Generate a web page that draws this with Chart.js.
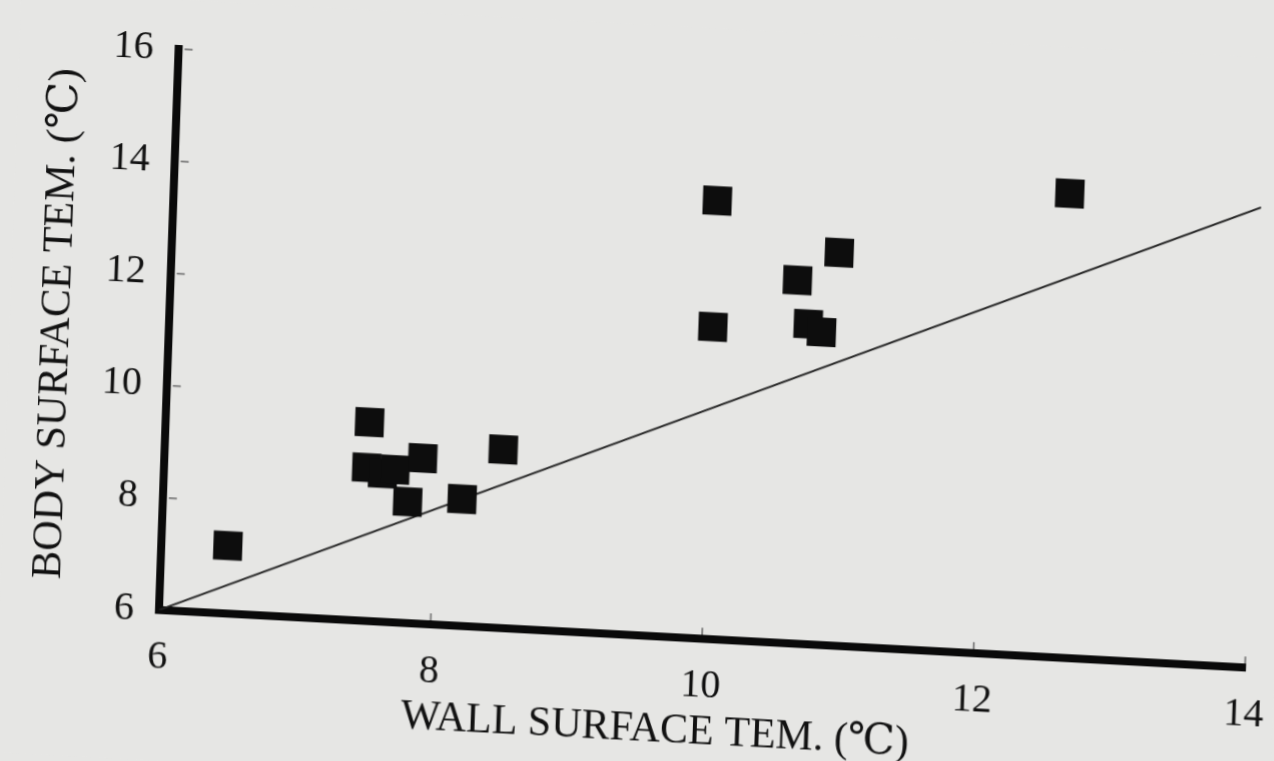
<!DOCTYPE html>
<html>
<head>
<meta charset="utf-8">
<script src="https://cdn.jsdelivr.net/npm/chart.js@4.4.1/dist/chart.umd.min.js"></script>
<style>
    html, body { margin: 0; padding: 0; background: #e6e6e4; overflow: hidden; }
    /* the scanned page is slightly skewed, so tilt the whole canvas the same way */
    #scatterChart {
        display: block;
        background: #e6e6e4;
        transform-origin: 159px 610px;
        transform: matrix(1, 0.053, -0.035, 1, 0, 0);
    }
</style>
</head>
<body>
<canvas id="scatterChart" width="1274" height="761"></canvas>
<script>
// Wall surface temperature (x) vs body surface temperature (y)
const wallTemp = [6.49, 7.50, 7.49, 7.61, 7.70, 7.90, 7.80, 8.20, 8.49, 10.00, 10.91, 10.61, 10.00, 10.70, 10.80, 12.59];
const bodyTemp = [7.21, 9.54, 8.73, 8.64, 8.72, 8.95, 8.16, 8.26, 9.18, 13.81, 13.00, 12.47, 11.56, 11.70, 11.57, 14.27];

// reference line
const lineWall = [6, 14];
const lineBody = [6, 14.2];

const xTicks = [6, 8, 10, 12, 14];
const yTicks = [6, 8, 10, 12, 14, 16];

const xTitle = "WALL SURFACE TEM. (\u2103)";
const yTitle = "BODY SURFACE TEM. (\u2103)";

const serif = '"Liberation Serif", "DejaVu Serif", serif';
const ink = '#111111';

// small inward tick marks + the x axis title (sits left of centre on the page)
const paperPlugin = {
    id: 'paper',
    afterDraw(chart) {
        const { ctx, chartArea: { left, bottom }, scales: { x, y } } = chart;
        ctx.save();
        ctx.strokeStyle = '#666';
        ctx.lineWidth = 1.5;
        xTicks.slice(1).forEach(v => {
            const px = x.getPixelForValue(v);
            ctx.beginPath();
            ctx.moveTo(px, bottom - 4);
            ctx.lineTo(px, bottom - 11);
            ctx.stroke();
        });
        yTicks.slice(1).forEach(v => {
            const py = y.getPixelForValue(v);
            ctx.beginPath();
            ctx.moveTo(left + 6, py);
            ctx.lineTo(left + 14, py);
            ctx.stroke();
        });

        ctx.fillStyle = ink;
        ctx.font = '42px ' + serif;
        ctx.textAlign = 'center';
        ctx.textBaseline = 'middle';
        ctx.fillText(xTitle, left + 499, bottom + 94);
        ctx.restore();
    }
};

const ctx = document.getElementById('scatterChart').getContext('2d');

new Chart(ctx, {
    type: 'scatter',
    data: {
        datasets: [
            {
                label: 'Body surface',
                data: wallTemp.map((w, i) => ({ x: w, y: bodyTemp[i] })),
                pointStyle: 'rect',
                pointRadius: 20.5,
                pointHoverRadius: 20.5,
                backgroundColor: '#0d0d0d',
                borderWidth: 0,
            },
            {
                label: 'Reference line',
                data: lineWall.map((w, i) => ({ x: w, y: lineBody[i] })),
                showLine: true,
                pointRadius: 0,
                borderColor: '#222222',
                borderWidth: 2,
            },
        ],
    },
    options: {
        responsive: false,
        animation: false,
        devicePixelRatio: 1,
        layout: { padding: { top: 40, right: 29, bottom: 0, left: 0 } },
        plugins: {
            legend: { display: false },
            tooltip: { enabled: false },
        },
        scales: {
            x: {
                type: 'linear',
                min: 6,
                max: 14,
                afterBuildTicks: s => { s.ticks = xTicks.map(v => ({ value: v })); },
                afterFit: s => {
                    s.height = 151;
                    s.paddingLeft = 0;
                    s.paddingRight = 0;
                },
                grid: { display: false, drawTicks: false },
                border: { display: true, color: '#0a0a0a', width: 8 },
                ticks: {
                    color: ink,
                    padding: 23,
                    maxRotation: 0,
                    font: { family: serif, size: 40 },
                },
            },
            y: {
                type: 'linear',
                min: 6,
                max: 16,
                afterBuildTicks: s => { s.ticks = yTicks.map(v => ({ value: v })); },
                afterFit: s => { s.width = 159; },
                grid: { display: false, drawTicks: false },
                border: { display: true, color: '#0a0a0a', width: 8 },
                ticks: {
                    color: ink,
                    padding: 25,
                    font: { family: serif, size: 40 },
                },
                title: {
                    display: true,
                    text: yTitle,
                    color: ink,
                    font: { family: serif, size: 42 },
                    padding: { top: 23, bottom: 0 },
                },
            },
        },
    },
    plugins: [paperPlugin],
});
</script>
</body>
</html>
